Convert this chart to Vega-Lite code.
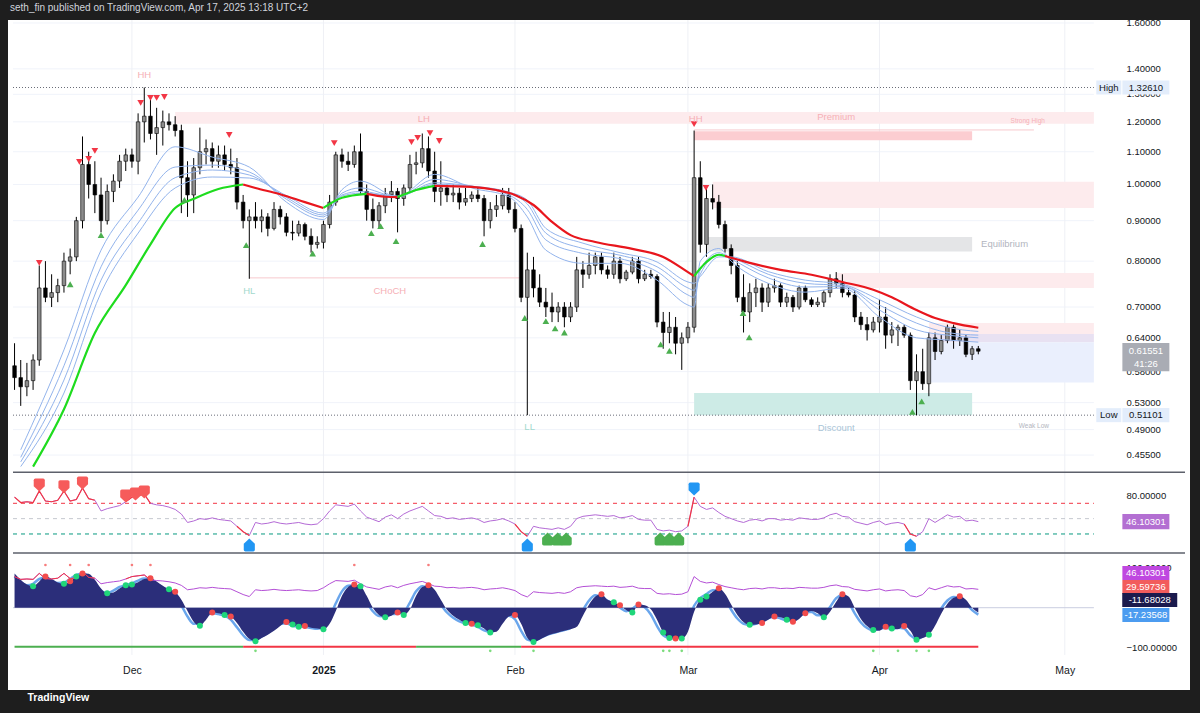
{
"$schema":"https://vega.github.io/schema/vega-lite/v6.json",
"width":1182,"height":670,
"autosize":{"type":"none"},
"padding":{"left":8,"top":20,"right":10,"bottom":23},
"background":"#1e1e1e",
"title":{"text":"seth_fin published on TradingView.com, Apr 17, 2025 13:18 UTC+2","anchor":"start","frame":"group","offset":5,"color":"#d1d4dc","fontSize":10,"fontWeight":"normal","dx":2},
"config":{"view":{"fill":"#ffffff","stroke":null},"font":"Liberation Sans"},
"datasets":{
"day":[
{"d":"2024-11-12","o":0.59,"h":0.63,"l":0.55,"c":0.57,"r":78,"w":86,"s":78},
{"d":"2024-11-13","o":0.57,"h":0.60,"l":0.525,"c":0.555,"r":71,"w":70,"s":64},
{"d":"2024-11-14","o":0.555,"h":0.595,"l":0.54,"c":0.565,"r":72,"w":58,"s":56},
{"d":"2024-11-15","o":0.565,"h":0.61,"l":0.55,"c":0.60,"r":71,"w":54,"s":60},
{"d":"2024-11-16","o":0.60,"h":0.79,"l":0.59,"c":0.74,"r":86,"w":66,"s":72},
{"d":"2024-11-17","o":0.74,"h":0.80,"l":0.71,"c":0.72,"r":73,"w":78,"s":75},
{"d":"2024-11-18","o":0.72,"h":0.77,"l":0.70,"c":0.73,"r":72,"w":72,"s":68},
{"d":"2024-11-19","o":0.73,"h":0.76,"l":0.71,"c":0.745,"r":74,"w":63,"s":62},
{"d":"2024-11-20","o":0.745,"h":0.82,"l":0.73,"c":0.80,"r":86,"w":60,"s":63},
{"d":"2024-11-21","o":0.80,"h":0.83,"l":0.77,"c":0.81,"r":73,"w":66,"s":72},
{"d":"2024-11-22","o":0.81,"h":0.91,"l":0.80,"c":0.90,"r":75,"w":78,"s":82},
{"d":"2024-11-23","o":0.90,"h":1.15,"l":0.88,"c":1.06,"r":90,"w":86,"s":86},
{"d":"2024-11-24","o":1.06,"h":1.10,"l":0.96,"c":1.00,"r":76,"w":85,"s":78},
{"d":"2024-11-25","o":1.00,"h":1.07,"l":0.92,"c":0.97,"r":74,"w":70,"s":59},
{"d":"2024-11-26","o":0.97,"h":1.02,"l":0.87,"c":0.90,"r":60,"w":48,"s":42},
{"d":"2024-11-27","o":0.90,"h":1.00,"l":0.89,"c":0.98,"r":63,"w":36,"s":37},
{"d":"2024-11-28","o":0.98,"h":1.03,"l":0.95,"c":1.01,"r":65,"w":38,"s":43},
{"d":"2024-11-29","o":1.01,"h":1.09,"l":0.99,"c":1.07,"r":67,"w":48,"s":52},
{"d":"2024-11-30","o":1.07,"h":1.11,"l":1.04,"c":1.09,"r":72,"w":56,"s":57},
{"d":"2024-12-01","o":1.09,"h":1.11,"l":1.05,"c":1.07,"r":78,"w":58,"s":61},
{"d":"2024-12-02","o":1.07,"h":1.23,"l":1.03,"c":1.20,"r":80,"w":64,"s":68},
{"d":"2024-12-03","o":1.20,"h":1.3261,"l":1.13,"c":1.22,"r":82,"w":72,"s":73},
{"d":"2024-12-04","o":1.22,"h":1.28,"l":1.14,"c":1.16,"r":70,"w":74,"s":70},
{"d":"2024-12-05","o":1.16,"h":1.25,"l":1.09,"c":1.18,"r":68,"w":66,"s":60},
{"d":"2024-12-06","o":1.18,"h":1.24,"l":1.12,"c":1.20,"r":67,"w":55,"s":50},
{"d":"2024-12-07","o":1.20,"h":1.23,"l":1.17,"c":1.19,"r":65,"w":46,"s":43},
{"d":"2024-12-08","o":1.19,"h":1.22,"l":1.15,"c":1.17,"r":62,"w":40,"s":30},
{"d":"2024-12-09","o":1.17,"h":1.19,"l":0.92,"c":1.02,"r":56,"w":20,"s":6},
{"d":"2024-12-10","o":1.02,"h":1.07,"l":0.91,"c":0.97,"r":45,"w":-8,"s":-22},
{"d":"2024-12-11","o":0.97,"h":1.08,"l":0.92,"c":1.05,"r":47,"w":-35,"s":-40},
{"d":"2024-12-12","o":1.05,"h":1.18,"l":1.03,"c":1.10,"r":50,"w":-45,"s":-38},
{"d":"2024-12-13","o":1.10,"h":1.14,"l":1.06,"c":1.11,"r":49,"w":-30,"s":-21},
{"d":"2024-12-14","o":1.11,"h":1.13,"l":1.05,"c":1.07,"r":51,"w":-12,"s":-13},
{"d":"2024-12-15","o":1.07,"h":1.12,"l":1.05,"c":1.09,"r":49,"w":-14,"s":-16},
{"d":"2024-12-16","o":1.09,"h":1.12,"l":1.04,"c":1.06,"r":48,"w":-18,"s":-20},
{"d":"2024-12-17","o":1.06,"h":1.11,"l":1.03,"c":1.05,"r":47,"w":-22,"s":-30},
{"d":"2024-12-18","o":1.05,"h":1.08,"l":0.93,"c":0.95,"r":40,"w":-38,"s":-49},
{"d":"2024-12-19","o":0.95,"h":0.97,"l":0.88,"c":0.90,"r":33,"w":-60,"s":-69},
{"d":"2024-12-20","o":0.90,"h":0.93,"l":0.76,"c":0.91,"r":28,"w":-78,"s":-81},
{"d":"2024-12-21","o":0.91,"h":0.95,"l":0.88,"c":0.90,"r":45,"w":-84,"s":-80},
{"d":"2024-12-22","o":0.90,"h":0.93,"l":0.87,"c":0.91,"r":43,"w":-76,"s":-72},
{"d":"2024-12-23","o":0.91,"h":0.92,"l":0.86,"c":0.88,"r":44,"w":-68,"s":-63},
{"d":"2024-12-24","o":0.88,"h":0.95,"l":0.875,"c":0.93,"r":46,"w":-58,"s":-52},
{"d":"2024-12-25","o":0.93,"h":0.94,"l":0.89,"c":0.91,"r":44,"w":-46,"s":-41},
{"d":"2024-12-26","o":0.91,"h":0.92,"l":0.86,"c":0.87,"r":43,"w":-36,"s":-39},
{"d":"2024-12-27","o":0.87,"h":0.90,"l":0.85,"c":0.868,"r":44,"w":-42,"s":-45},
{"d":"2024-12-28","o":0.868,"h":0.90,"l":0.86,"c":0.89,"r":45,"w":-48,"s":-47},
{"d":"2024-12-29","o":0.89,"h":0.895,"l":0.85,"c":0.86,"r":43,"w":-46,"s":-48},
{"d":"2024-12-30","o":0.86,"h":0.88,"l":0.82,"c":0.84,"r":42,"w":-50,"s":-51},
{"d":"2024-12-31","o":0.84,"h":0.86,"l":0.83,"c":0.845,"r":43,"w":-52,"s":-53},
{"d":"2025-01-01","o":0.845,"h":0.90,"l":0.83,"c":0.89,"r":50,"w":-54,"s":-47},
{"d":"2025-01-02","o":0.89,"h":0.97,"l":0.88,"c":0.95,"r":60,"w":-40,"s":-24},
{"d":"2025-01-03","o":0.95,"h":1.10,"l":0.94,"c":1.09,"r":68,"w":-8,"s":11},
{"d":"2025-01-04","o":1.09,"h":1.11,"l":1.05,"c":1.07,"r":67,"w":30,"s":41},
{"d":"2025-01-05","o":1.07,"h":1.10,"l":1.04,"c":1.06,"r":66,"w":52,"s":55},
{"d":"2025-01-06","o":1.06,"h":1.12,"l":1.05,"c":1.10,"r":69,"w":58,"s":56},
{"d":"2025-01-07","o":1.10,"h":1.16,"l":0.97,"c":0.98,"r":60,"w":54,"s":42},
{"d":"2025-01-08","o":0.98,"h":1.00,"l":0.90,"c":0.93,"r":52,"w":30,"s":15},
{"d":"2025-01-09","o":0.93,"h":0.96,"l":0.88,"c":0.90,"r":49,"w":0,"s":-9},
{"d":"2025-01-10","o":0.90,"h":0.95,"l":0.88,"c":0.94,"r":46,"w":-18,"s":-21},
{"d":"2025-01-11","o":0.94,"h":0.99,"l":0.92,"c":0.97,"r":52,"w":-24,"s":-22},
{"d":"2025-01-12","o":0.97,"h":1.01,"l":0.95,"c":0.98,"r":55,"w":-20,"s":-16},
{"d":"2025-01-13","o":0.98,"h":0.99,"l":0.87,"c":0.96,"r":50,"w":-12,"s":-15},
{"d":"2025-01-14","o":0.96,"h":1.00,"l":0.94,"c":0.99,"r":56,"w":-18,"s":-11},
{"d":"2025-01-15","o":0.99,"h":1.09,"l":0.98,"c":1.06,"r":60,"w":-4,"s":13},
{"d":"2025-01-16","o":1.06,"h":1.10,"l":1.03,"c":1.065,"r":63,"w":30,"s":41},
{"d":"2025-01-17","o":1.065,"h":1.16,"l":1.05,"c":1.11,"r":66,"w":52,"s":54},
{"d":"2025-01-18","o":1.11,"h":1.15,"l":1.02,"c":1.04,"r":60,"w":56,"s":50},
{"d":"2025-01-19","o":1.04,"h":1.10,"l":0.95,"c":0.98,"r":54,"w":45,"s":32},
{"d":"2025-01-20","o":0.98,"h":1.07,"l":0.94,"c":0.99,"r":53,"w":20,"s":8},
{"d":"2025-01-21","o":0.99,"h":1.00,"l":0.95,"c":0.97,"r":50,"w":-5,"s":-12},
{"d":"2025-01-22","o":0.97,"h":1.00,"l":0.95,"c":0.975,"r":51,"w":-20,"s":-25},
{"d":"2025-01-23","o":0.975,"h":0.99,"l":0.93,"c":0.95,"r":49,"w":-30,"s":-34},
{"d":"2025-01-24","o":0.95,"h":0.99,"l":0.94,"c":0.96,"r":50,"w":-38,"s":-39},
{"d":"2025-01-25","o":0.96,"h":0.98,"l":0.95,"c":0.97,"r":51,"w":-40,"s":-42},
{"d":"2025-01-26","o":0.97,"h":0.99,"l":0.95,"c":0.96,"r":49,"w":-44,"s":-48},
{"d":"2025-01-27","o":0.96,"h":0.97,"l":0.86,"c":0.90,"r":45,"w":-52,"s":-57},
{"d":"2025-01-28","o":0.90,"h":0.95,"l":0.88,"c":0.93,"r":47,"w":-62,"s":-61},
{"d":"2025-01-29","o":0.93,"h":0.97,"l":0.91,"c":0.94,"r":48,"w":-60,"s":-50},
{"d":"2025-01-30","o":0.94,"h":0.99,"l":0.93,"c":0.97,"r":50,"w":-40,"s":-31},
{"d":"2025-01-31","o":0.97,"h":0.99,"l":0.92,"c":0.93,"r":47,"w":-22,"s":-20},
{"d":"2025-02-01","o":0.93,"h":0.95,"l":0.87,"c":0.88,"r":43,"w":-18,"s":-29},
{"d":"2025-02-02","o":0.88,"h":0.89,"l":0.71,"c":0.72,"r":33,"w":-40,"s":-58},
{"d":"2025-02-03","o":0.72,"h":0.82,"l":0.511,"c":0.78,"r":27,"w":-75,"s":-80},
{"d":"2025-02-04","o":0.78,"h":0.81,"l":0.72,"c":0.74,"r":40,"w":-86,"s":-83},
{"d":"2025-02-05","o":0.74,"h":0.77,"l":0.70,"c":0.71,"r":38,"w":-80,"s":-76},
{"d":"2025-02-06","o":0.71,"h":0.74,"l":0.68,"c":0.70,"r":37,"w":-72,"s":-69},
{"d":"2025-02-07","o":0.70,"h":0.73,"l":0.67,"c":0.69,"r":36,"w":-66,"s":-64},
{"d":"2025-02-08","o":0.69,"h":0.71,"l":0.67,"c":0.70,"r":38,"w":-62,"s":-60},
{"d":"2025-02-09","o":0.70,"h":0.71,"l":0.66,"c":0.68,"r":36,"w":-58,"s":-56},
{"d":"2025-02-10","o":0.68,"h":0.71,"l":0.67,"c":0.70,"r":40,"w":-54,"s":-51},
{"d":"2025-02-11","o":0.70,"h":0.81,"l":0.69,"c":0.78,"r":50,"w":-48,"s":-34},
{"d":"2025-02-12","o":0.78,"h":0.80,"l":0.74,"c":0.77,"r":53,"w":-20,"s":-6},
{"d":"2025-02-13","o":0.77,"h":0.82,"l":0.76,"c":0.79,"r":54,"w":8,"s":18},
{"d":"2025-02-14","o":0.79,"h":0.82,"l":0.77,"c":0.81,"r":55,"w":28,"s":31},
{"d":"2025-02-15","o":0.81,"h":0.82,"l":0.77,"c":0.78,"r":54,"w":34,"s":27},
{"d":"2025-02-16","o":0.78,"h":0.79,"l":0.76,"c":0.77,"r":53,"w":20,"s":17},
{"d":"2025-02-17","o":0.77,"h":0.82,"l":0.76,"c":0.80,"r":54,"w":14,"s":10},
{"d":"2025-02-18","o":0.80,"h":0.81,"l":0.75,"c":0.76,"r":51,"w":6,"s":0},
{"d":"2025-02-19","o":0.76,"h":0.78,"l":0.755,"c":0.775,"r":52,"w":-6,"s":-9},
{"d":"2025-02-20","o":0.775,"h":0.81,"l":0.77,"c":0.80,"r":54,"w":-12,"s":-2},
{"d":"2025-02-21","o":0.80,"h":0.81,"l":0.75,"c":0.76,"r":49,"w":8,"s":7},
{"d":"2025-02-22","o":0.76,"h":0.78,"l":0.755,"c":0.77,"r":48,"w":6,"s":1},
{"d":"2025-02-23","o":0.77,"h":0.78,"l":0.76,"c":0.765,"r":48,"w":-4,"s":-17},
{"d":"2025-02-24","o":0.765,"h":0.77,"l":0.66,"c":0.67,"r":36,"w":-30,"s":-46},
{"d":"2025-02-25","o":0.67,"h":0.69,"l":0.62,"c":0.65,"r":34,"w":-62,"s":-69},
{"d":"2025-02-26","o":0.65,"h":0.69,"l":0.63,"c":0.66,"r":35,"w":-76,"s":-76},
{"d":"2025-02-27","o":0.66,"h":0.68,"l":0.61,"c":0.63,"r":33,"w":-77,"s":-77},
{"d":"2025-02-28","o":0.63,"h":0.65,"l":0.583,"c":0.64,"r":34,"w":-77,"s":-68},
{"d":"2025-03-01","o":0.64,"h":0.67,"l":0.63,"c":0.66,"r":40,"w":-60,"s":-35},
{"d":"2025-03-02","o":0.66,"h":1.17,"l":0.65,"c":1.02,"r":78,"w":-10,"s":5},
{"d":"2025-03-03","o":1.02,"h":1.07,"l":0.82,"c":0.84,"r":66,"w":20,"s":24},
{"d":"2025-03-04","o":0.84,"h":0.99,"l":0.81,"c":0.96,"r":62,"w":28,"s":34},
{"d":"2025-03-05","o":0.96,"h":1.00,"l":0.93,"c":0.95,"r":64,"w":40,"s":44},
{"d":"2025-03-06","o":0.95,"h":0.97,"l":0.88,"c":0.89,"r":58,"w":49,"s":42},
{"d":"2025-03-07","o":0.89,"h":0.90,"l":0.82,"c":0.83,"r":53,"w":35,"s":22},
{"d":"2025-03-08","o":0.83,"h":0.84,"l":0.77,"c":0.79,"r":50,"w":8,"s":-5},
{"d":"2025-03-09","o":0.79,"h":0.80,"l":0.71,"c":0.72,"r":47,"w":-18,"s":-27},
{"d":"2025-03-10","o":0.72,"h":0.77,"l":0.65,"c":0.69,"r":45,"w":-36,"s":-40},
{"d":"2025-03-11","o":0.69,"h":0.75,"l":0.67,"c":0.73,"r":48,"w":-43,"s":-42},
{"d":"2025-03-12","o":0.73,"h":0.76,"l":0.70,"c":0.74,"r":49,"w":-42,"s":-40},
{"d":"2025-03-13","o":0.74,"h":0.75,"l":0.69,"c":0.71,"r":47,"w":-38,"s":-34},
{"d":"2025-03-14","o":0.71,"h":0.75,"l":0.70,"c":0.74,"r":50,"w":-30,"s":-26},
{"d":"2025-03-15","o":0.74,"h":0.76,"l":0.73,"c":0.745,"r":50,"w":-22,"s":-23},
{"d":"2025-03-16","o":0.745,"h":0.75,"l":0.70,"c":0.71,"r":48,"w":-24,"s":-27},
{"d":"2025-03-17","o":0.71,"h":0.73,"l":0.70,"c":0.72,"r":49,"w":-30,"s":-32},
{"d":"2025-03-18","o":0.72,"h":0.725,"l":0.69,"c":0.70,"r":48,"w":-35,"s":-32},
{"d":"2025-03-19","o":0.70,"h":0.745,"l":0.695,"c":0.74,"r":51,"w":-28,"s":-21},
{"d":"2025-03-20","o":0.74,"h":0.745,"l":0.71,"c":0.715,"r":50,"w":-14,"s":-11},
{"d":"2025-03-21","o":0.715,"h":0.72,"l":0.70,"c":0.705,"r":49,"w":-8,"s":-11},
{"d":"2025-03-22","o":0.705,"h":0.72,"l":0.70,"c":0.71,"r":49,"w":-14,"s":-19},
{"d":"2025-03-23","o":0.71,"h":0.735,"l":0.70,"c":0.73,"r":51,"w":-24,"s":-17},
{"d":"2025-03-24","o":0.73,"h":0.77,"l":0.72,"c":0.76,"r":55,"w":-10,"s":2},
{"d":"2025-03-25","o":0.76,"h":0.775,"l":0.74,"c":0.75,"r":57,"w":15,"s":24},
{"d":"2025-03-26","o":0.75,"h":0.77,"l":0.72,"c":0.73,"r":53,"w":34,"s":31},
{"d":"2025-03-27","o":0.73,"h":0.74,"l":0.72,"c":0.725,"r":52,"w":28,"s":14},
{"d":"2025-03-28","o":0.725,"h":0.735,"l":0.67,"c":0.68,"r":46,"w":0,"s":-14},
{"d":"2025-03-29","o":0.68,"h":0.69,"l":0.655,"c":0.665,"r":44,"w":-28,"s":-37},
{"d":"2025-03-30","o":0.665,"h":0.68,"l":0.635,"c":0.655,"r":42,"w":-46,"s":-51},
{"d":"2025-03-31","o":0.655,"h":0.68,"l":0.65,"c":0.67,"r":45,"w":-56,"s":-57},
{"d":"2025-04-01","o":0.67,"h":0.715,"l":0.65,"c":0.68,"r":47,"w":-58,"s":-53},
{"d":"2025-04-02","o":0.68,"h":0.70,"l":0.62,"c":0.645,"r":42,"w":-48,"s":-50},
{"d":"2025-04-03","o":0.645,"h":0.67,"l":0.63,"c":0.655,"r":44,"w":-52,"s":-53},
{"d":"2025-04-04","o":0.655,"h":0.665,"l":0.625,"c":0.66,"r":45,"w":-54,"s":-50},
{"d":"2025-04-05","o":0.66,"h":0.665,"l":0.64,"c":0.645,"r":43,"w":-46,"s":-52},
{"d":"2025-04-06","o":0.645,"h":0.65,"l":0.55,"c":0.565,"r":30,"w":-58,"s":-69},
{"d":"2025-04-07","o":0.565,"h":0.61,"l":0.511,"c":0.58,"r":27,"w":-80,"s":-78},
{"d":"2025-04-08","o":0.58,"h":0.62,"l":0.55,"c":0.56,"r":33,"w":-76,"s":-72},
{"d":"2025-04-09","o":0.56,"h":0.65,"l":0.54,"c":0.64,"r":50,"w":-68,"s":-56},
{"d":"2025-04-10","o":0.64,"h":0.65,"l":0.60,"c":0.615,"r":45,"w":-45,"s":-30},
{"d":"2025-04-11","o":0.615,"h":0.645,"l":0.61,"c":0.635,"r":50,"w":-15,"s":-2},
{"d":"2025-04-12","o":0.635,"h":0.665,"l":0.63,"c":0.66,"r":55,"w":10,"s":18},
{"d":"2025-04-13","o":0.66,"h":0.665,"l":0.62,"c":0.635,"r":52,"w":25,"s":27},
{"d":"2025-04-14","o":0.635,"h":0.655,"l":0.625,"c":0.64,"r":53,"w":29,"s":24},
{"d":"2025-04-15","o":0.64,"h":0.645,"l":0.605,"c":0.61,"r":47,"w":20,"s":10},
{"d":"2025-04-16","o":0.61,"h":0.625,"l":0.60,"c":0.62,"r":48,"w":0,"s":-6},
{"d":"2025-04-17","o":0.62,"h":0.625,"l":0.61,"c":0.6155,"r":46.1,"w":-11.7,"s":-17.2}
],
"blue":[
{"d":"2024-11-13","b1":0.462,"b2":0.452,"b3":0.446,"b4":0.44},
{"d":"2024-11-20","b1":0.618,"b2":0.59,"b3":0.566,"b4":0.545},
{"d":"2024-11-26","b1":0.826,"b2":0.787,"b3":0.757,"b4":0.73},
{"d":"2024-12-02","b1":0.964,"b2":0.928,"b3":0.894,"b4":0.868},
{"d":"2024-12-08","b1":1.116,"b2":1.052,"b3":1.02,"b4":0.99},
{"d":"2024-12-14","b1":1.083,"b2":1.058,"b3":1.043,"b4":1.022},
{"d":"2024-12-20","b1":1.052,"b2":1.037,"b3":1.028,"b4":1.019},
{"d":"2024-12-26","b1":0.95,"b2":0.958,"b3":0.963,"b4":0.968},
{"d":"2025-01-01","b1":0.903,"b2":0.91,"b3":0.915,"b4":0.92},
{"d":"2025-01-04","b1":0.985,"b2":0.975,"b3":0.97,"b4":0.967},
{"d":"2025-01-07","b1":1.01,"b2":0.99,"b3":0.98,"b4":0.975},
{"d":"2025-01-13","b1":0.965,"b2":0.965,"b3":0.965,"b4":0.967},
{"d":"2025-01-19","b1":1.03,"b2":1.015,"b3":1.005,"b4":1.0},
{"d":"2025-01-25","b1":0.99,"b2":0.995,"b3":0.995,"b4":0.995},
{"d":"2025-01-31","b1":0.965,"b2":0.97,"b3":0.975,"b4":0.978},
{"d":"2025-02-03","b1":0.91,"b2":0.93,"b3":0.945,"b4":0.955},
{"d":"2025-02-06","b1":0.826,"b2":0.851,"b3":0.868,"b4":0.88},
{"d":"2025-02-12","b1":0.795,"b2":0.818,"b3":0.83,"b4":0.843},
{"d":"2025-02-18","b1":0.795,"b2":0.806,"b3":0.814,"b4":0.82},
{"d":"2025-02-24","b1":0.757,"b2":0.776,"b3":0.787,"b4":0.798},
{"d":"2025-03-01","b1":0.704,"b2":0.725,"b3":0.74,"b4":0.753},
{"d":"2025-03-02","b1":0.70,"b2":0.72,"b3":0.735,"b4":0.75},
{"d":"2025-03-03","b1":0.80,"b2":0.78,"b3":0.77,"b4":0.765},
{"d":"2025-03-06","b1":0.83,"b2":0.82,"b3":0.815,"b4":0.81},
{"d":"2025-03-08","b1":0.80,"b2":0.805,"b3":0.808,"b4":0.81},
{"d":"2025-03-14","b1":0.75,"b2":0.762,"b3":0.77,"b4":0.776},
{"d":"2025-03-20","b1":0.731,"b2":0.742,"b3":0.75,"b4":0.757},
{"d":"2025-03-26","b1":0.74,"b2":0.743,"b3":0.745,"b4":0.748},
{"d":"2025-04-01","b1":0.68,"b2":0.694,"b3":0.704,"b4":0.715},
{"d":"2025-04-07","b1":0.64,"b2":0.655,"b3":0.668,"b4":0.68},
{"d":"2025-04-12","b1":0.636,"b2":0.645,"b3":0.65,"b4":0.66},
{"d":"2025-04-17","b1":0.632,"b2":0.64,"b3":0.645,"b4":0.652}
],
"trend":[
{"d":"2024-11-15","v":0.44,"s":1,"g":"u"},{"d":"2024-11-20","v":0.52,"s":1,"g":"u"},{"d":"2024-11-25","v":0.649,"s":1,"g":"u"},{"d":"2024-11-30","v":0.746,"s":1,"g":"u"},{"d":"2024-12-04","v":0.84,"s":1,"g":"u"},{"d":"2024-12-08","v":0.934,"s":1,"g":"u"},{"d":"2024-12-11","v":0.959,"s":1,"g":"u"},{"d":"2024-12-15","v":0.987,"s":1,"g":"u"},{"d":"2024-12-19","v":1.0,"s":1,"g":"u"},
{"d":"2024-12-19","v":1.0,"s":2,"g":"d"},{"d":"2024-12-21","v":0.99,"s":2,"g":"d"},{"d":"2024-12-25","v":0.972,"s":2,"g":"d"},{"d":"2024-12-29","v":0.95,"s":2,"g":"d"},{"d":"2025-01-01","v":0.934,"s":2,"g":"d"},
{"d":"2025-01-01","v":0.934,"s":3,"g":"u"},{"d":"2025-01-04","v":0.962,"s":3,"g":"u"},{"d":"2025-01-08","v":0.973,"s":3,"g":"u"},
{"d":"2025-01-08","v":0.973,"s":4,"g":"d"},{"d":"2025-01-11","v":0.965,"s":4,"g":"d"},{"d":"2025-01-13","v":0.964,"s":4,"g":"d"},
{"d":"2025-01-13","v":0.964,"s":5,"g":"u"},{"d":"2025-01-16","v":0.984,"s":5,"g":"u"},{"d":"2025-01-19","v":0.996,"s":5,"g":"u"},
{"d":"2025-01-19","v":0.996,"s":6,"g":"d"},{"d":"2025-01-25","v":0.993,"s":6,"g":"d"},{"d":"2025-01-29","v":0.984,"s":6,"g":"d"},{"d":"2025-02-01","v":0.97,"s":6,"g":"d"},{"d":"2025-02-04","v":0.942,"s":6,"g":"d"},{"d":"2025-02-07","v":0.897,"s":6,"g":"d"},{"d":"2025-02-10","v":0.863,"s":6,"g":"d"},{"d":"2025-02-14","v":0.846,"s":6,"g":"d"},{"d":"2025-02-20","v":0.829,"s":6,"g":"d"},{"d":"2025-02-25","v":0.81,"s":6,"g":"d"},{"d":"2025-03-01","v":0.775,"s":6,"g":"d"},{"d":"2025-03-02","v":0.766,"s":6,"g":"d"},
{"d":"2025-03-02","v":0.766,"s":7,"g":"u"},{"d":"2025-03-04","v":0.798,"s":7,"g":"u"},{"d":"2025-03-06","v":0.815,"s":7,"g":"u"},{"d":"2025-03-07","v":0.812,"s":7,"g":"u"},
{"d":"2025-03-07","v":0.812,"s":8,"g":"d"},{"d":"2025-03-11","v":0.796,"s":8,"g":"d"},{"d":"2025-03-16","v":0.78,"s":8,"g":"d"},{"d":"2025-03-21","v":0.769,"s":8,"g":"d"},{"d":"2025-03-26","v":0.753,"s":8,"g":"d"},{"d":"2025-03-31","v":0.736,"s":8,"g":"d"},{"d":"2025-04-03","v":0.72,"s":8,"g":"d"},{"d":"2025-04-07","v":0.694,"s":8,"g":"d"},{"d":"2025-04-10","v":0.678,"s":8,"g":"d"},{"d":"2025-04-13","v":0.668,"s":8,"g":"d"},{"d":"2025-04-17","v":0.659,"s":8,"g":"d"}
],
"rr":[
{"d":"2024-11-12","r":78,"g":1},{"d":"2024-11-13","r":71,"g":1},{"d":"2024-11-14","r":72,"g":1},{"d":"2024-11-15","r":71,"g":1},{"d":"2024-11-16","r":86,"g":1},{"d":"2024-11-17","r":73,"g":1},{"d":"2024-11-18","r":72,"g":1},{"d":"2024-11-19","r":74,"g":1},{"d":"2024-11-20","r":86,"g":1},{"d":"2024-11-21","r":73,"g":1},{"d":"2024-11-22","r":75,"g":1},{"d":"2024-11-23","r":90,"g":1},{"d":"2024-11-24","r":76,"g":1},{"d":"2024-11-25","r":74,"g":1},
{"d":"2024-11-30","r":72,"g":2},{"d":"2024-12-01","r":78,"g":2},{"d":"2024-12-02","r":80,"g":2},{"d":"2024-12-03","r":82,"g":2},{"d":"2024-12-04","r":70,"g":2},
{"d":"2024-12-18","r":40,"g":3},{"d":"2024-12-19","r":33,"g":3},{"d":"2024-12-20","r":28,"g":3},
{"d":"2025-02-01","r":43,"g":4},{"d":"2025-02-02","r":33,"g":4},{"d":"2025-02-03","r":27,"g":4},
{"d":"2025-03-01","r":40,"g":5},{"d":"2025-03-02","r":78,"g":5},
{"d":"2025-04-05","r":43,"g":6},{"d":"2025-04-06","r":30,"g":6},{"d":"2025-04-07","r":27,"g":6}
]
},
"encoding":{"x":{"field":"d","type":"temporal",
 "scale":{"domain":[{"year":2024,"month":11,"date":11,"hours":18},{"year":2025,"month":5,"date":20,"hours":11}]},
 "axis":{"values":[{"year":2024,"month":12,"date":1},{"year":2025,"month":1,"date":1},{"year":2025,"month":2,"date":1},{"year":2025,"month":3,"date":1},{"year":2025,"month":4,"date":1},{"year":2025,"month":5,"date":1}],
  "labelExpr":"month(datum.value)==0 ? '2025' : timeFormat(datum.value,'%b')",
  "labelFontWeight":{"condition":{"test":"month(datum.value)==0","value":"bold"},"value":"normal"},
  "grid":false,"ticks":false,"domain":false,"offset":-35,"labelPadding":10,"labelFontSize":10.5,"labelColor":"#131722","labelOverlap":false,"labelFlush":false,
  "title":"TradingView","titleColor":"#ffffff","titleFontSize":10.5,"titleFontWeight":"bold","titleAnchor":"start","titleAlign":"left","titleX":19,"titleY":42,"titleBaseline":"middle"}}},
"layer":[
{"layer":[
 {"data":{"values":[{"d":"2024-11-11T18:00","e":"2025-05-05T17:00","v":1.6},{"d":"2024-11-11T18:00","e":"2025-05-05T17:00","v":1.4},{"d":"2024-11-11T18:00","e":"2025-05-05T17:00","v":1.3},{"d":"2024-11-11T18:00","e":"2025-05-05T17:00","v":1.2},{"d":"2024-11-11T18:00","e":"2025-05-05T17:00","v":1.1},{"d":"2024-11-11T18:00","e":"2025-05-05T17:00","v":1.0},{"d":"2024-11-11T18:00","e":"2025-05-05T17:00","v":0.9},{"d":"2024-11-11T18:00","e":"2025-05-05T17:00","v":0.8},{"d":"2024-11-11T18:00","e":"2025-05-05T17:00","v":0.7},{"d":"2024-11-11T18:00","e":"2025-05-05T17:00","v":0.64},{"d":"2024-11-11T18:00","e":"2025-05-05T17:00","v":0.58},{"d":"2024-11-11T18:00","e":"2025-05-05T17:00","v":0.53},{"d":"2024-11-11T18:00","e":"2025-05-05T17:00","v":0.49},{"d":"2024-11-11T18:00","e":"2025-05-05T17:00","v":0.455}]},
  "mark":{"type":"rule","color":"#f0f3fa","strokeWidth":1},
  "encoding":{"x2":{"field":"e"},
   "y":{"field":"v","type":"quantitative","scale":{"type":"log","domain":[0.4331,1.614],"range":[452,0],"nice":false,"zero":false},"axis":null}}},
 {"data":{"values":[{"d":"2024-12-01"},{"d":"2025-01-01"},{"d":"2025-02-01"},{"d":"2025-03-01"},{"d":"2025-04-01"},{"d":"2025-05-01"}]},
  "mark":{"type":"rule","color":"#eef0f5","strokeWidth":1},
  "encoding":{"y":{"datum":0.2543,"type":"quantitative","axis":null},"y2":{"datum":1.614}}},
 {"data":{"values":[
   {"d":"2024-12-08","e":"2025-05-05T17:00","lo":1.193,"hi":1.235,"k":"p"},
   {"d":"2025-03-02","e":"2025-04-16","lo":1.137,"hi":1.168,"k":"dp"},
   {"d":"2025-03-05","e":"2025-05-05T17:00","lo":0.934,"hi":1.008,"k":"p"},
   {"d":"2025-03-04","e":"2025-04-16","lo":0.823,"hi":0.858,"k":"g"},
   {"d":"2025-03-25","e":"2025-05-05T17:00","lo":0.74,"hi":0.773,"k":"p"},
   {"d":"2025-04-09","e":"2025-05-05T17:00","lo":0.647,"hi":0.668,"k":"p"},
   {"d":"2025-04-09","e":"2025-05-05T17:00","lo":0.632,"hi":0.647,"k":"pu"},
   {"d":"2025-04-09","e":"2025-05-05T17:00","lo":0.562,"hi":0.632,"k":"b"},
   {"d":"2025-03-02","e":"2025-04-16","lo":0.511,"hi":0.545,"k":"gr"}]},
  "mark":{"type":"rect","opacity":1},
  "encoding":{"x2":{"field":"e"},"y":{"field":"lo","type":"quantitative","axis":null},"y2":{"field":"hi"},
   "color":{"field":"k","type":"nominal","scale":{"domain":["p","dp","g","b","pu","gr"],"range":["#fdebed","#fccdd1","#e4e5e7","#eaeffd","#e8e1f2","#cdebe6"]},"legend":null}}},
 {"data":{"values":[{"d":"2024-12-20","e":"2025-02-02","v":0.762},{"d":"2025-03-02","e":"2025-04-26","v":1.172}]},
  "mark":{"type":"rule","color":"#f7c9cd","strokeWidth":1},
  "encoding":{"x2":{"field":"e"},"y":{"field":"v","type":"quantitative","axis":null}}},
 {"data":{"values":[{"d":"2024-11-11T18:00","e":"2025-05-05T17:00","v":1.3261},{"d":"2024-11-11T18:00","e":"2025-05-05T17:00","v":0.51101}]},
  "mark":{"type":"rule","color":"#6a6d78","strokeWidth":1,"strokeDash":[1,2]},
  "encoding":{"x2":{"field":"e"},"y":{"field":"v","type":"quantitative","axis":null}}},
 {"data":{"name":"day"},
  "mark":{"type":"rule","color":"#000000","strokeWidth":1},
  "encoding":{"y":{"field":"l","type":"quantitative","axis":null},"y2":{"field":"h"}}},
 {"data":{"name":"day"},
  "mark":{"type":"bar","width":3.6,"stroke":"#000000","strokeWidth":0.6},
  "encoding":{"y":{"field":"o","type":"quantitative","axis":null},"y2":{"field":"c"},
   "color":{"condition":{"test":"datum.o > datum.c","value":"#000000"},"value":"#8c8c8c"}}},
 {"data":{"name":"blue"},
  "transform":[{"fold":["b1","b2","b3","b4"],"as":["key","val"]}],
  "mark":{"type":"line","strokeWidth":1,"color":"#93b4ec","interpolate":"monotone"},
  "encoding":{"y":{"field":"val","type":"quantitative","axis":null},"detail":{"field":"key"}}},
 {"data":{"name":"trend"},
  "mark":{"type":"line","strokeWidth":2.2,"interpolate":"monotone"},
  "encoding":{"y":{"field":"v","type":"quantitative","axis":null},"detail":{"field":"s"},
   "color":{"field":"g","type":"nominal","scale":{"domain":["u","d"],"range":["#1edc1e","#e8161d"]},"legend":null}}},
 {"data":{"values":[
   {"d":"2024-11-16","v":0.796,"k":"dn"},{"d":"2024-11-22T12:00","v":1.068,"k":"dn"},{"d":"2024-11-24","v":1.077,"k":"dn"},{"d":"2024-11-25","v":1.103,"k":"dn"},{"d":"2024-12-02T10:00","v":1.268,"k":"dn"},{"d":"2024-12-04","v":1.287,"k":"dn"},{"d":"2024-12-05","v":1.287,"k":"dn"},{"d":"2024-12-06T06:00","v":1.29,"k":"dn"},{"d":"2024-12-16T18:00","v":1.155,"k":"dn"},{"d":"2025-01-02T18:00","v":1.128,"k":"dn"},{"d":"2025-01-15T06:00","v":1.131,"k":"dn"},{"d":"2025-01-16T06:00","v":1.145,"k":"dn"},{"d":"2025-01-18T06:00","v":1.161,"k":"dn"},{"d":"2025-01-19T18:00","v":1.135,"k":"dn"},{"d":"2025-03-02","v":1.192,"k":"dn"},{"d":"2025-03-03T22:00","v":0.99,"k":"dn"},
   {"d":"2024-11-21","v":0.748,"k":"up"},{"d":"2024-11-26","v":0.863,"k":"up"},{"d":"2024-12-09T12:00","v":0.956,"k":"up"},{"d":"2024-12-19T12:00","v":0.838,"k":"up"},{"d":"2024-12-30T06:00","v":0.818,"k":"up"},{"d":"2025-01-08T18:00","v":0.868,"k":"up"},{"d":"2025-01-10T06:00","v":0.886,"k":"up"},{"d":"2025-01-12T18:00","v":0.848,"k":"up"},{"d":"2025-01-26T18:00","v":0.841,"k":"up"},{"d":"2025-02-02T14:00","v":0.678,"k":"up"},{"d":"2025-02-06","v":0.672,"k":"up"},{"d":"2025-02-07T12:00","v":0.658,"k":"up"},{"d":"2025-02-09","v":0.65,"k":"up"},{"d":"2025-02-24T14:00","v":0.628,"k":"up"},{"d":"2025-02-26","v":0.616,"k":"up"},{"d":"2025-03-09T22:00","v":0.688,"k":"up"},{"d":"2025-03-10T22:00","v":0.641,"k":"up"},{"d":"2025-04-06T08:00","v":0.516,"k":"up"},{"d":"2025-04-07T20:00","v":0.532,"k":"up"}]},
  "mark":{"type":"point","filled":true,"opacity":1,"size":45},
  "encoding":{"y":{"field":"v","type":"quantitative","axis":null},
   "shape":{"field":"k","type":"nominal","scale":{"domain":["dn","up"],"range":["triangle-down","triangle-up"]},"legend":null},
   "color":{"field":"k","type":"nominal","scale":{"domain":["dn","up"],"range":["#f23645","#4caf50"]},"legend":null}}},
 {"data":{"values":[
   {"d":"2024-12-03","v":1.375,"t":"HH","k":"r"},{"d":"2025-01-17T06:00","v":1.21,"t":"LH","k":"r"},{"d":"2025-03-02T06:00","v":1.21,"t":"HH","k":"r"},{"d":"2025-03-25","v":1.217,"t":"Premium","k":"r"},{"d":"2025-04-21T06:00","v":0.841,"t":"Equilibrium","k":"n"},{"d":"2024-12-20","v":0.734,"t":"HL","k":"g"},{"d":"2025-01-11T18:00","v":0.734,"t":"CHoCH","k":"r"},{"d":"2025-02-03T09:00","v":0.494,"t":"LL","k":"g"},{"d":"2025-03-25","v":0.492,"t":"Discount","k":"b"}]},
  "mark":{"type":"text","fontSize":9.5},
  "encoding":{"y":{"field":"v","type":"quantitative","axis":null},"text":{"field":"t"},
   "color":{"field":"k","type":"nominal","scale":{"domain":["r","n","g","b"],"range":["#f6b0b6","#b2b5be","#a3d9cd","#a9c4d6"]},"legend":null}}},
 {"data":{"values":[{"d":"2025-04-25","v":1.203,"t":"Strong High","k":"r"},{"d":"2025-04-26","v":0.495,"t":"Weak Low","k":"n"}]},
  "mark":{"type":"text","fontSize":6.5},
  "encoding":{"y":{"field":"v","type":"quantitative","axis":null},"text":{"field":"t"},
   "color":{"field":"k","type":"nominal","scale":{"domain":["r","n"],"range":["#f6b0b6","#b2b5be"]},"legend":null}}},
 {"data":{"values":[{"d":"2025-05-11","v":1.6},{"d":"2025-05-11","v":1.4},{"d":"2025-05-11","v":1.3},{"d":"2025-05-11","v":1.2},{"d":"2025-05-11","v":1.1},{"d":"2025-05-11","v":1.0},{"d":"2025-05-11","v":0.9},{"d":"2025-05-11","v":0.8},{"d":"2025-05-11","v":0.7},{"d":"2025-05-11","v":0.64},{"d":"2025-05-11","v":0.58},{"d":"2025-05-11","v":0.53},{"d":"2025-05-11","v":0.49},{"d":"2025-05-11","v":0.455}]},
  "mark":{"type":"text","fontSize":9.5,"align":"left","baseline":"middle","color":"#131722"},
  "encoding":{"y":{"field":"v","type":"quantitative","axis":null},"text":{"field":"v","type":"quantitative","format":".5f"}}},
 {"data":{"values":[{"d":"2025-05-08T03:00","v":1.3261},{"d":"2025-05-08T03:00","v":0.51101}]},
  "mark":{"type":"point","filled":true,"opacity":1,"size":625,"shape":"M-1,-0.56H1V0.56H-1Z","color":"#e3edfb"},
  "encoding":{"y":{"field":"v","type":"quantitative","axis":null}}},
 {"data":{"values":[{"d":"2025-05-14T03:00","v":1.3261},{"d":"2025-05-14T03:00","v":0.51101}]},
  "mark":{"type":"point","filled":true,"opacity":1,"size":2209,"shape":"M-1,-0.3H1V0.3H-1Z","color":"#e3edfb"},
  "encoding":{"y":{"field":"v","type":"quantitative","axis":null}}},
 {"data":{"values":[{"d":"2025-05-14T03:00","v":0.605}]},
  "mark":{"type":"point","filled":true,"opacity":1,"size":2209,"shape":"M-1,-0.6H1V0.6H-1Z","color":"#a9acb4"},
  "encoding":{"y":{"field":"v","type":"quantitative","axis":null}}},
 {"data":{"values":[{"d":"2025-05-08T03:00","v":1.3261,"t":"High","k":"k"},{"d":"2025-05-14T03:00","v":1.3261,"t":"1.32610","k":"k"},{"d":"2025-05-08T03:00","v":0.51101,"t":"Low","k":"k"},{"d":"2025-05-14T03:00","v":0.51101,"t":"0.51101","k":"k"},{"d":"2025-05-14T03:00","v":0.616,"t":"0.61551","k":"w"},{"d":"2025-05-14T03:00","v":0.593,"t":"41:26","k":"w"}]},
  "mark":{"type":"text","fontSize":9.5},
  "encoding":{"y":{"field":"v","type":"quantitative","axis":null},"text":{"field":"t"},
   "color":{"field":"k","type":"nominal","scale":{"domain":["k","w"],"range":["#131722","#ffffff"]},"legend":null}}}
 ],
 "resolve":{"scale":{"color":"independent","shape":"independent","opacity":"independent"}}},
{"layer":[
 {"data":{"values":[{"d":"2024-11-11T18:00","e":"2025-05-20T11:00","v":110.5},{"d":"2024-11-11T18:00","e":"2025-05-20T11:00","v":5.2}]},
  "mark":{"type":"rule","color":"#5d606b","strokeWidth":1.5},
  "encoding":{"x2":{"field":"e"},
   "y":{"field":"v","type":"quantitative","scale":{"domain":[5.2,109.5],"range":[533,453],"nice":false,"zero":false},"axis":null}}},
 {"data":{"values":[{"d":"2024-11-11T18:00","e":"2025-05-05T17:00","v":70,"k":"a"},{"d":"2024-11-11T18:00","e":"2025-05-05T17:00","v":50,"k":"b"},{"d":"2024-11-11T18:00","e":"2025-05-05T17:00","v":30,"k":"c"}]},
  "mark":{"type":"rule","strokeWidth":1,"strokeDash":[4,4]},
  "encoding":{"x2":{"field":"e"},
   "y":{"field":"v","type":"quantitative","axis":null},
   "color":{"field":"k","type":"nominal","scale":{"domain":["a","b","c"],"range":["#f23645","#c5c8cf","#089981"]},"legend":null}}},
 {"data":{"name":"day"},
  "mark":{"type":"line","strokeWidth":1,"color":"#b46ad6"},
  "encoding":{"y":{"field":"r","type":"quantitative","axis":null}}},
 {"data":{"name":"rr"},
  "mark":{"type":"line","strokeWidth":1.2,"color":"#f23645"},
  "encoding":{"y":{"field":"r","type":"quantitative","axis":null},"detail":{"field":"g"}}},
 {"data":{"values":[
   {"d":"2024-11-16","v":93.8,"k":"r"},{"d":"2024-11-20","v":91.6,"k":"r"},{"d":"2024-11-23","v":96.4,"k":"r"},{"d":"2024-11-30","v":79.5,"k":"r"},{"d":"2024-12-01T14:00","v":82,"k":"r"},{"d":"2024-12-03","v":84.7,"k":"r"},
   {"d":"2024-12-20","v":15.7,"k":"bu"},{"d":"2025-02-03","v":15.7,"k":"bu"},{"d":"2025-04-06","v":15.7,"k":"bu"},{"d":"2025-03-02","v":88.6,"k":"bd"},
   {"d":"2025-02-06T07:00","v":23.5,"k":"g"},{"d":"2025-02-07T22:00","v":23.5,"k":"g"},{"d":"2025-02-09T07:00","v":23.5,"k":"g"},{"d":"2025-02-24T12:00","v":23.5,"k":"g"},{"d":"2025-02-26","v":23.5,"k":"g"},{"d":"2025-02-27T12:00","v":23.5,"k":"g"}]},
  "mark":{"type":"point","filled":true,"opacity":1,"size":170},
  "encoding":{"y":{"field":"v","type":"quantitative","axis":null},
   "shape":{"field":"k","type":"nominal","scale":{"domain":["r","bu","bd","g"],"range":["M-0.85,-0.75Q-0.85,-1 -0.6,-1H0.6Q0.85,-1 0.85,-0.75V0.2L0,1L-0.85,0.2Z","M-0.85,0.75Q-0.85,1 -0.6,1H0.6Q0.85,1 0.85,0.75V-0.2L0,-1L-0.85,-0.2Z","M-0.85,-0.75Q-0.85,-1 -0.6,-1H0.6Q0.85,-1 0.85,-0.75V0.2L0,1L-0.85,0.2Z","M-0.85,0.75Q-0.85,1 -0.6,1H0.6Q0.85,1 0.85,0.75V-0.2L0,-1L-0.85,-0.2Z"]},"legend":null},
   "color":{"field":"k","type":"nominal","scale":{"domain":["r","bu","bd","g"],"range":["#f65b5b","#2196f3","#2196f3","#4caf50"]},"legend":null}}},
 {"data":{"values":[{"d":"2025-05-11","v":80},{"d":"2025-05-11","v":40}]},
  "mark":{"type":"text","fontSize":9.5,"align":"left","baseline":"middle","color":"#131722"},
  "encoding":{"y":{"field":"v","type":"quantitative","axis":null},"text":{"field":"v","type":"quantitative","format":".5f"}}},
 {"data":{"values":[{"d":"2025-05-14T03:00","v":46.1}]},
  "mark":{"type":"point","filled":true,"opacity":1,"size":2209,"shape":"M-1,-0.32H1V0.32H-1Z","color":"#b36fd2"},
  "encoding":{"y":{"field":"v","type":"quantitative","axis":null}}},
 {"data":{"values":[{"d":"2025-05-14T03:00","v":46.1,"t":"46.10301"}]},
  "mark":{"type":"text","fontSize":9.5,"color":"#ffffff"},
  "encoding":{"y":{"field":"v","type":"quantitative","axis":null},"text":{"field":"t"}}}
 ],
 "resolve":{"scale":{"color":"independent","shape":"independent","opacity":"independent"}}},
{"layer":[
 {"data":{"values":[{"d":"2024-11-11T18:00","e":"2025-05-05T17:00","v":0}]},
  "mark":{"type":"rule","color":"#c9cde0","strokeWidth":1},
  "encoding":{"x2":{"field":"e"},
   "y":{"field":"v","type":"quantitative","scale":{"domain":[-118.5,134.6],"range":[635,534],"nice":false,"zero":false},"axis":null}}},
 {"data":{"name":"day"},
  "mark":{"type":"line","strokeWidth":2.5,"color":"#6aa6ec","interpolate":"monotone"},
  "encoding":{"y":{"field":"s","type":"quantitative","axis":null}}},
 {"data":{"name":"day"},
  "mark":{"type":"area","color":"#2b2e7a","opacity":1,"interpolate":"monotone"},
  "encoding":{"y":{"field":"w","type":"quantitative","axis":null},"y2":{"datum":0}}},
 {"data":{"name":"day"},
  "mark":{"type":"line","strokeWidth":1,"color":"#b44fd6"},
  "encoding":{"y":{"field":"r","type":"quantitative","axis":null}}},
 {"data":{"name":"rr"},
  "transform":[{"filter":"datum.g <= 2"}],
  "mark":{"type":"line","strokeWidth":1,"color":"#f23645"},
  "encoding":{"y":{"field":"r","type":"quantitative","axis":null},"detail":{"field":"g"}}},
 {"data":{"values":[
   {"d":"2024-11-12","e":"2024-12-19","k":"g"},{"d":"2024-12-19","e":"2025-01-16","k":"r"},{"d":"2025-01-16","e":"2025-02-02","k":"g"},{"d":"2025-02-02","e":"2025-04-17","k":"r"}]},
  "mark":{"type":"rule","strokeWidth":2},
  "encoding":{"x2":{"field":"e"},"y":{"datum":-98,"type":"quantitative","axis":null},
   "color":{"field":"k","type":"nominal","scale":{"domain":["g","r"],"range":["#4caf50","#f23645"]},"legend":null}}},
 {"data":{"values":[
   {"d":"2024-11-15","v":54,"k":"g"},{"d":"2024-11-20","v":60,"k":"g"},{"d":"2024-11-22","v":78,"k":"g"},{"d":"2024-11-27","v":36,"k":"g"},{"d":"2024-11-30","v":56,"k":"g"},{"d":"2024-12-01","v":58,"k":"g"},{"d":"2024-12-07","v":46,"k":"g"},{"d":"2024-12-12","v":-45,"k":"g"},{"d":"2024-12-16","v":-18,"k":"g"},{"d":"2024-12-21","v":-84,"k":"g"},{"d":"2024-12-27","v":-42,"k":"g"},{"d":"2024-12-28","v":-48,"k":"g"},{"d":"2025-01-01","v":-54,"k":"g"},{"d":"2025-01-07","v":54,"k":"g"},{"d":"2025-01-11","v":-24,"k":"g"},{"d":"2025-01-14","v":-18,"k":"g"},{"d":"2025-01-24","v":-38,"k":"g"},{"d":"2025-01-26","v":-44,"k":"g"},{"d":"2025-01-28","v":-62,"k":"g"},{"d":"2025-02-04","v":-86,"k":"g"},{"d":"2025-02-17","v":14,"k":"g"},{"d":"2025-02-20","v":-12,"k":"g"},{"d":"2025-02-25","v":-62,"k":"g"},{"d":"2025-02-26","v":-76,"k":"g"},{"d":"2025-02-28","v":-77,"k":"g"},{"d":"2025-03-03","v":20,"k":"g"},{"d":"2025-03-04","v":28,"k":"g"},{"d":"2025-03-11","v":-43,"k":"g"},{"d":"2025-03-17","v":-30,"k":"g"},{"d":"2025-03-23","v":-24,"k":"g"},{"d":"2025-03-31","v":-56,"k":"g"},{"d":"2025-04-03","v":-52,"k":"g"},{"d":"2025-04-07","v":-80,"k":"g"},{"d":"2025-04-09","v":-68,"k":"g"},
   {"d":"2024-11-17","v":78,"k":"r"},{"d":"2024-11-21","v":66,"k":"r"},{"d":"2024-11-23","v":86,"k":"r"},{"d":"2024-12-04","v":74,"k":"r"},{"d":"2024-12-08","v":40,"k":"r"},{"d":"2024-12-14","v":-12,"k":"r"},{"d":"2024-12-17","v":-22,"k":"r"},{"d":"2024-12-26","v":-36,"k":"r"},{"d":"2024-12-29","v":-46,"k":"r"},{"d":"2025-01-06","v":58,"k":"r"},{"d":"2025-01-13","v":-12,"k":"r"},{"d":"2025-01-18","v":56,"k":"r"},{"d":"2025-01-25","v":-40,"k":"r"},{"d":"2025-02-01","v":-18,"k":"r"},{"d":"2025-02-15","v":34,"k":"r"},{"d":"2025-02-18","v":6,"k":"r"},{"d":"2025-02-21","v":8,"k":"r"},{"d":"2025-02-27","v":-77,"k":"r"},{"d":"2025-03-06","v":49,"k":"r"},{"d":"2025-03-13","v":-38,"k":"r"},{"d":"2025-03-15","v":-22,"k":"r"},{"d":"2025-03-18","v":-35,"k":"r"},{"d":"2025-03-20","v":-14,"k":"r"},{"d":"2025-03-26","v":34,"k":"r"},{"d":"2025-04-02","v":-48,"k":"r"},{"d":"2025-04-05","v":-46,"k":"r"},{"d":"2025-04-14","v":29,"k":"r"}]},
  "mark":{"type":"circle","opacity":1,"size":36},
  "encoding":{"y":{"field":"v","type":"quantitative","axis":null},
   "color":{"field":"k","type":"nominal","scale":{"domain":["g","r"],"range":["#1fd67a","#f24c4c"]},"legend":null}}},
 {"data":{"values":[
   {"d":"2024-11-17","v":107,"k":"r"},{"d":"2024-11-21","v":107,"k":"r"},{"d":"2024-11-24","v":107,"k":"r"},{"d":"2024-12-01","v":107,"k":"r"},{"d":"2024-12-04","v":107,"k":"r"},{"d":"2025-01-06","v":107,"k":"r"},{"d":"2025-01-18","v":107,"k":"r"},
   {"d":"2024-12-21","v":-108,"k":"g"},{"d":"2025-01-28","v":-108,"k":"g"},{"d":"2025-02-04","v":-108,"k":"g"},{"d":"2025-02-25","v":-108,"k":"g"},{"d":"2025-02-26","v":-108,"k":"g"},{"d":"2025-02-28","v":-108,"k":"g"},{"d":"2025-03-31","v":-108,"k":"g"},{"d":"2025-04-04","v":-108,"k":"g"},{"d":"2025-04-07","v":-108,"k":"g"},{"d":"2025-04-09","v":-108,"k":"g"}]},
  "mark":{"type":"circle","opacity":1,"size":7},
  "encoding":{"y":{"field":"v","type":"quantitative","axis":null},
   "color":{"field":"k","type":"nominal","scale":{"domain":["g","r"],"range":["#7ddc7d","#f77c7c"]},"legend":null}}},
 {"data":{"values":[{"d":"2025-05-11","v":100},{"d":"2025-05-11","v":-100}]},
  "mark":{"type":"text","fontSize":9.5,"align":"left","baseline":"middle","color":"#131722"},
  "encoding":{"y":{"field":"v","type":"quantitative","axis":null},"text":{"field":"v","type":"quantitative","format":".5f"}}},
 {"data":{"values":[{"d":"2025-05-14T03:00","v":87,"k":"p"},{"d":"2025-05-14T03:00","v":51.9,"k":"r"},{"d":"2025-05-14T03:00","v":-18.3,"k":"b"}]},
  "mark":{"type":"point","filled":true,"opacity":1,"size":2209,"shape":"M-1,-0.3H1V0.3H-1Z"},
  "encoding":{"y":{"field":"v","type":"quantitative","axis":null},
   "color":{"field":"k","type":"nominal","scale":{"domain":["p","r","b"],"range":["#bf48e0","#f25c5c","#4c9cf0"]},"legend":null}}},
 {"data":{"values":[{"d":"2025-05-14T18:00","v":19.3}]},
  "mark":{"type":"point","filled":true,"opacity":1,"size":3025,"shape":"M-1,-0.255H1V0.255H-1Z","color":"#1b1a4d"},
  "encoding":{"y":{"field":"v","type":"quantitative","axis":null}}},
 {"data":{"values":[{"d":"2025-05-14T03:00","v":87,"t":"46.10301"},{"d":"2025-05-14T03:00","v":51.9,"t":"29.59736"},{"d":"2025-05-14T18:00","v":19.3,"t":"-11.68028"},{"d":"2025-05-14T03:00","v":-18.3,"t":"-17.23568"}]},
  "mark":{"type":"text","fontSize":9.5,"color":"#ffffff"},
  "encoding":{"y":{"field":"v","type":"quantitative","axis":null},"text":{"field":"t"}}}
 ],
 "resolve":{"scale":{"color":"independent","shape":"independent","opacity":"independent"}}}
],
"resolve":{"scale":{"y":"independent","color":"independent","shape":"independent","opacity":"independent"},"axis":{"y":"independent"}}
}
